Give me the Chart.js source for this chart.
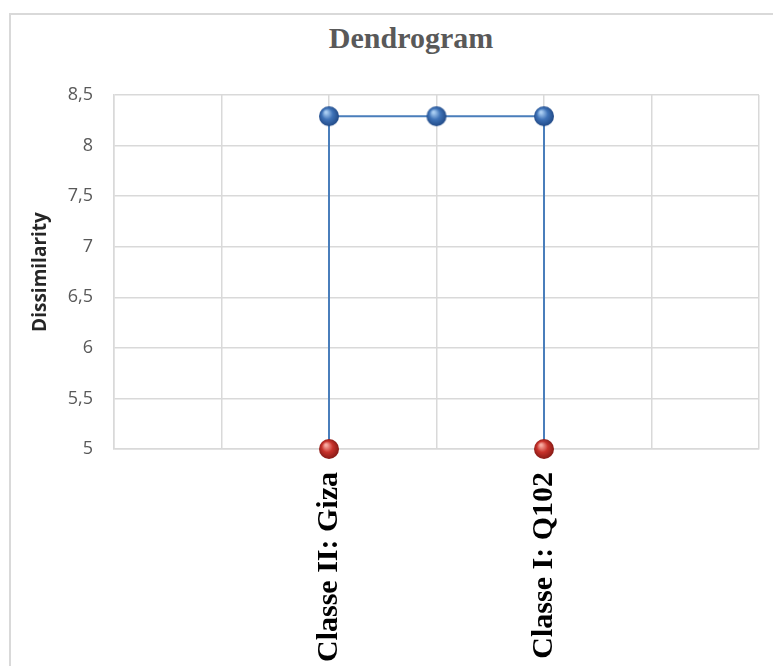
<!DOCTYPE html>
<html>
<head>
<meta charset="utf-8">
<script src="https://cdn.jsdelivr.net/npm/chart.js@4/dist/chart.umd.min.js"></script>
<style>
  html, body { margin: 0; padding: 0; width: 773px; height: 666px; overflow: hidden; background: #fff; }
  .frame { position: absolute; left: 9px; top: 13px; width: 820px; height: 720px; border: 2px solid #d9d9d9; }
  .title { position: absolute; left: 0; top: 21px; width: 822px; text-align: center; line-height: 30px;
           font: bold 30px "Liberation Serif", "Times New Roman", serif; color: #595959; }
  canvas { position: absolute; left: 0; top: 0; }
</style>
</head>
<body>
<div class="frame"></div>
<div class="title">Dendrogram</div>
<canvas id="chartDendro" width="773" height="666"></canvas>
<script>
const leafLabels = ['Classe II: Giza', 'Classe I: Q102'];
const leafX = [2, 4];
const leafHeight = [5, 5];
const nodeX = [2, 3, 4];
const nodeHeight = [8.29, 8.29, 8.29];
const yMin = 5, yMax = 8.5, yStep = 0.5;
const xMin = 0, xMax = 6;

const grid = '#d9d9d9';
const muted = '#595959';

// glossy ball used as point marker
function sphere(light, mid, dark) {
  const c = document.createElement('canvas');
  c.width = 24; c.height = 24;
  const g = c.getContext('2d');
  const grad = g.createRadialGradient(9, 8, 1, 12, 12, 11);
  grad.addColorStop(0, light);
  grad.addColorStop(0.45, mid);
  grad.addColorStop(1, dark);
  g.beginPath();
  g.arc(12, 12, 10, 0, Math.PI * 2);
  g.fillStyle = grad;
  g.fill();
  return c;
}

const leaves = leafX.map((x, i) => ({ x, y: leafHeight[i] }));
const nodes = nodeX.map((x, i) => ({ x, y: nodeHeight[i] }));
const path = [leaves[0], ...nodes, leaves[1]];

new Chart(document.getElementById('chartDendro'), {
  type: 'scatter',
  data: {
    datasets: [
      {
        label: 'Nodes',
        data: nodes,
        pointStyle: sphere('#a9cdf2', '#3f73b8', '#1d4480'),
        pointRadius: 10,
        order: 0,
        clip: false
      },
      {
        label: 'Leaves',
        data: leaves,
        pointStyle: sphere('#f7a9a0', '#c8322b', '#7d1612'),
        pointRadius: 10,
        order: 0,
        clip: false
      },
      {
        label: 'Links',
        data: path,
        showLine: true,
        borderColor: '#4a7ebb',
        borderWidth: 2,
        pointRadius: 0,
        order: 1,
        clip: false
      }
    ]
  },
  options: {
    responsive: false,
    animation: false,
    layout: { padding: { left: 0, right: 14, top: 95, bottom: 0 } },
    scales: {
      x: {
        type: 'linear',
        min: xMin,
        max: xMax,
        afterFit: s => { s.height = 217; s.paddingLeft = 0; s.paddingRight = 0; },
        grid: { color: grid, lineWidth: 1.5, drawTicks: false },
        border: { color: grid, width: 1.5 },
        ticks: {
          stepSize: 1,
          autoSkip: false,
          minRotation: 90,
          maxRotation: 90,
          padding: 23,
          color: '#000',
          font: { family: '"Liberation Serif", "Times New Roman", serif', size: 30, weight: 'bold' },
          callback: v => { const i = leafX.indexOf(v); return i >= 0 ? leafLabels[i] : ''; }
        }
      },
      y: {
        min: yMin,
        max: yMax,
        afterFit: s => { s.width = 114; },
        grid: { color: grid, lineWidth: 1.5, drawTicks: false },
        border: { color: grid, width: 1.5 },
        ticks: {
          stepSize: yStep,
          padding: 21,
          color: muted,
          font: { family: '"Open Sans", sans-serif', size: 18 },
          callback: v => String(v).replace('.', ',')
        },
        title: {
          display: true,
          text: 'Dissimilarity',
          color: '#262626',
          padding: { top: 29, bottom: 0 },
          font: { family: '"Open Sans", sans-serif', size: 19, weight: 'bold' }
        }
      }
    },
    plugins: { legend: { display: false }, tooltip: { enabled: false } }
  }
});
</script>
</body>
</html>
